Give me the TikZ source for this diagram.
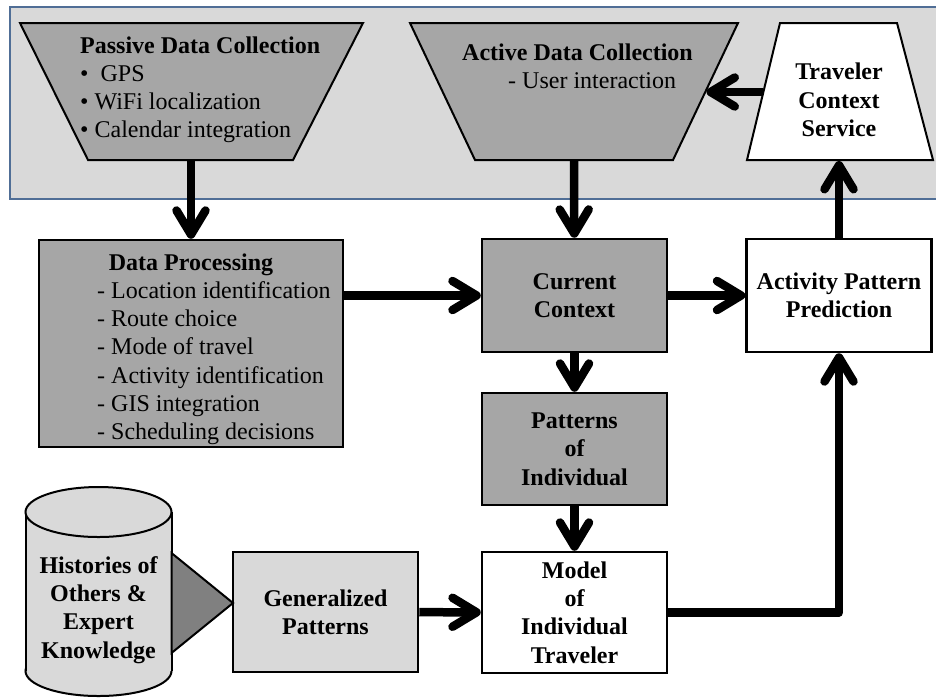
\documentclass[tikz,border=0pt]{standalone}
\usepackage{fontspec}
\setmainfont{Liberation Serif}
\usetikzlibrary{arrows.meta}
\definecolor{darkfill}{RGB}{166,166,166}
\definecolor{lightfill}{RGB}{217,217,217}
\definecolor{trifill}{RGB}{128,128,128}
\definecolor{panelline}{RGB}{80,110,150}
\begin{document}
\begin{tikzpicture}[x=1pt,y=-1pt,
  txt/.style={inner sep=0pt, font=\fontsize{24}{28.3}\selectfont},
  btxt/.style={inner sep=0pt, font=\fontsize{24}{28.3}\selectfont\bfseries},
  trapline/.style={draw=black, line width=2pt, line join=miter},
  tbox/.style={draw=black, line width=2.5pt, minimum width=185pt, inner sep=0pt, align=center, font=\fontsize{24}{28.3}\selectfont\bfseries},
  arr/.style={line width=8.5pt, line join=round, -{Straight Barb[length=24pt,width=29pt,round]}}
]
\useasboundingbox (0,0) rectangle (936,697);
% panel
\fill[lightfill] (10,7) rectangle (936,199);
\draw[panelline, line width=2pt] (936,7) -- (10,7) -- (10,199) -- (936,199);

% trapezoids
\draw[trapline, fill=darkfill] (20,23) -- (363,23) -- (293,160) -- (88,160) -- cycle;
\draw[trapline, fill=darkfill] (410,23) -- (738,23) -- (673,160) -- (475,160) -- cycle;
\draw[trapline, fill=white] (780,23) -- (897,23) -- (933,160) -- (747,160) -- cycle;
\coordinate (pasB) at (191,161);
\coordinate (actB) at (574,161);
\coordinate (actR) at (706.5,92);
\coordinate (travL) at (763,92);
\coordinate (travB) at (839,161);

\node[txt, anchor=base west] (pastxt) at (80,53) {\begin{tabular}[t]{@{}l@{}}\textbf{Passive Data Collection}\\ •\ \ GPS\\ • WiFi localization\\ • Calendar integration\end{tabular}};
\node[btxt, anchor=base west] (acttitle) at (462,60) {Active Data Collection};
\node[txt, anchor=base west] (actsub) at (508,88) {- User interaction};
\node[btxt, align=center] (travtxt) at (839,100) {Traveler\\Context\\Service};

% boxes
\node[tbox, fill=darkfill, minimum width=304pt, minimum height=207pt] (data) at (191,343.5) {};
\node[btxt, anchor=base] (datatitle) at (191,270) {Data Processing};
\node[txt, anchor=base west] (datalist) at (97,298.3) {\begin{tabular}[t]{@{}l@{}}- Location identification\\ - Route choice\\ - Mode of travel\\ - Activity identification\\ - GIS integration\\ - Scheduling decisions\end{tabular}};

\node[tbox, fill=darkfill, minimum height=113pt] (cur) at (574.5,295.5) {Current\\Context};
\node[tbox, fill=white, minimum height=113pt] (apred) at (839,295.5) {Activity Pattern\\Prediction};
\node[tbox, fill=darkfill, minimum height=112pt] (pat) at (574.5,449) {Patterns\\of\\Individual};
\node[tbox, fill=white, minimum height=121pt] (model) at (574.5,612.5) {Model\\of\\Individual\\Traveler};
\node[tbox, fill=lightfill, minimum height=120pt] (gen) at (325.5,612) {Generalized\\Patterns};

% cylinder
\draw[line width=2pt, fill=lightfill] (98.5,671) ellipse [x radius=73, y radius=25];
\fill[lightfill] (25.5,512) rectangle (171.5,671);
\draw[line width=2pt] (25.5,512) -- (25.5,671) (171.5,512) -- (171.5,671);
\draw[line width=2pt, fill=lightfill] (98.5,512) ellipse [x radius=73, y radius=25];
\node[btxt, align=center] (hist) at (98.5,610) {Histories of\\Others \&\\Expert\\Knowledge};
\draw[line width=2pt, fill=trifill, line join=miter] (171.5,553) -- (233,603) -- (171.5,653) -- cycle;

% connectors
\draw[arr] (pasB) -- (data);
\draw[arr] (actB) -- (cur);
\draw[arr] (travL) -- (actR);
\draw[arr] (data.east |- cur) -- (cur);
\draw[arr] (cur) -- (apred);
\draw[arr] (apred) -- (travB);
\draw[arr] (cur) -- (pat);
\draw[arr] (pat) -- (model);
\draw[arr] (gen) -- (model);
\draw[arr] (model.east) -| (apred);
\end{tikzpicture}
\end{document}
